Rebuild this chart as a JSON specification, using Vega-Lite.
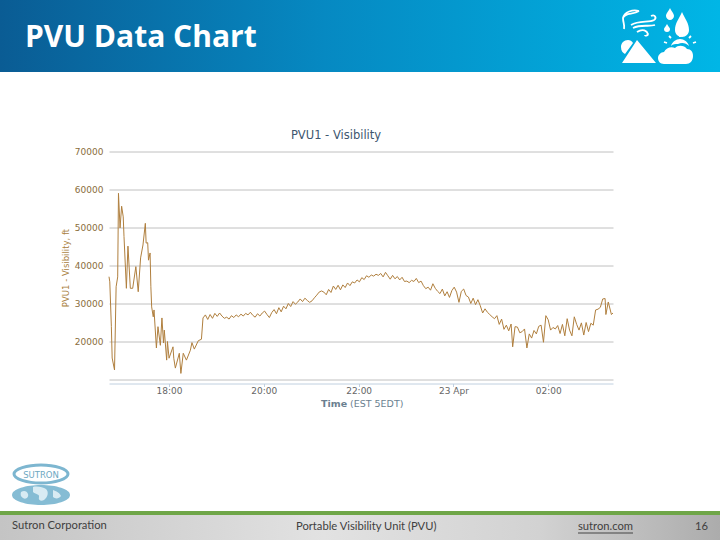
{
  "$schema": "https://vega.github.io/schema/vega-lite/v6.json",
  "width": 504,
  "height": 232,
  "autosize": "none",
  "padding": {"left": 109, "top": 151.5, "right": 107, "bottom": 156.5},
  "background": "#ffffff",
  "config": {"view": {"stroke": null}},
  "resolve": {"scale": {"x": "independent", "y": "independent"}, "axis": {"x": "independent", "y": "independent"}},
  "layer": [
    {
      "encoding": {
        "x": {"field": "x", "type": "quantitative", "axis": null, "scale": {"domain": [0, 720], "range": [-109, 611]}},
        "y": {"field": "y", "type": "quantitative", "axis": null, "scale": {"domain": [0, 540], "range": [-151.5, 388.5]}}
      },
      "layer": [
        {
          "data": {"values": [{"x": 0, "x2": 720, "y": 0, "y2": 72}]},
          "mark": {"type": "rect", "fill": {"x1": 0, "y1": 0, "x2": 1, "y2": 0, "gradient": "linear", "stops": [{"offset": 0, "color": "#0a5c94"}, {"offset": 0.45, "color": "#0689c2"}, {"offset": 1, "color": "#00b6e6"}]}},
          "encoding": {"x2": {"field": "x2"}, "y2": {"field": "y2"}}
        },
        {
          "data": {"values": [{"x": 0, "x2": 720, "y": 514, "y2": 540}]},
          "mark": {"type": "rect", "fill": {"x1": 0, "y1": 0, "x2": 1, "y2": 0, "gradient": "linear", "stops": [{"offset": 0, "color": "#c4c4c4"}, {"offset": 0.45, "color": "#e2e2e2"}, {"offset": 0.75, "color": "#d2d2d2"}, {"offset": 1, "color": "#acacac"}]}},
          "encoding": {"x2": {"field": "x2"}, "y2": {"field": "y2"}}
        },
        {
          "data": {"values": [{"x": 0, "x2": 720, "y": 511, "y2": 515}]},
          "mark": {"type": "rect", "fill": "#6fa648"},
          "encoding": {"x2": {"field": "x2"}, "y2": {"field": "y2"}}
        },
        {
          "data": {"values": [{"x": 578, "x2": 633, "y": 532.5, "y2": 533.5}]},
          "mark": {"type": "rect", "fill": "#444444"},
          "encoding": {"x2": {"field": "x2"}, "y2": {"field": "y2"}}
        },
        {
          "data": {"values": [{"x": 657, "y": 37}]},
          "mark": {"type": "point", "filled": true, "opacity": 1, "fill": "#ffffff", "stroke": null, "size": 4, "shape": "M-20,3 L-1,26 L-35,26 Z M-29,3 C-33,3 -36,6 -36,10 C-36,14 -34,16 -32,17 L-24,6 C-25,4 -27,3 -29,3 Z M25,-25 C28,-18 32,-14 32,-7 C32,-3 29,0 25,0 C21,0 18,-3 18,-7 C18,-14 22,-18 25,-25 Z M13,-29 C14,-26 17,-24 17,-21 C17,-19 15,-17 13,-17 C11,-17 9,-19 9,-21 C9,-24 12,-26 13,-29 Z M10,-13 C11,-11 13,-9 13,-8 C13,-6 12,-5 10,-5 C8,-5 7,-6 7,-8 C7,-9 9,-11 10,-13 Z M7,27 C3,27 1,24 1,21 C1,18 4,15 7,15 C9,11 14,9 18,11 C21,8 27,8 30,12 C34,12 36,15 36,19 C36,24 33,27 29,27 Z M14,9 C15,5 19,2 23,2 C27,2 31,5 32,9 C29,6 25,5 21,7 C18,7 16,7 14,9 Z"}
        },
        {
          "data": {"values": [{"x": 657, "y": 37}]},
          "mark": {"type": "point", "filled": false, "opacity": 1, "stroke": "#ffffff", "strokeWidth": 1.8, "size": 4, "shape": "M-18,-26 C-24,-28 -33,-25 -34,-19 C-34,-14 -32,-12 -33,-8 M-34,-19 C-32,-25 -24,-22 -18,-26 M-26,-12 C-18,-17 -8,-14 -3,-17 C0,-19 -2,-23 -6,-21 M-24,-9 C-16,-13 -8,-10 -2,-12 M-20,-5 C-14,-9 -10,-6 -9,-3 C-9,-1 -12,-1 -12,-2 M23,-1 L23,0 M14,1 L12,-1 M32,1 L34,-1 M10,6 L7,5 M36,6 L39,5"}
        },
        {
          "data": {"values": [{"x": 41, "y": 485}]},
          "mark": {"type": "point", "filled": false, "opacity": 1, "stroke": "#7db6d0", "strokeWidth": 3, "size": 4, "shape": "M-27,-11 C-27,-16 -14,-20 0,-20 C14,-20 27,-16 27,-11 C27,-6 14,-2 0,-2 C-14,-2 -27,-6 -27,-11 Z"}
        },
        {
          "data": {"values": [{"x": 41, "y": 485}]},
          "mark": {"type": "point", "filled": true, "opacity": 1, "fill": "#85bcd4", "stroke": null, "size": 4, "shape": "M-29,10 C-29,4 -15,0 0,0 C15,0 29,4 29,10 C29,16 15,20 0,20 C-15,20 -29,16 -29,10 Z"}
        },
        {
          "data": {"values": [{"x": 41, "y": 495}]},
          "mark": {"type": "point", "filled": true, "opacity": 1, "fill": "#d8ebf3", "stroke": null, "size": 4, "shape": "M-8,-8 C-4,-9 2,-8 5,-6 C8,-3 7,2 3,5 C0,7 -3,5 -2,2 C-1,-1 -6,-1 -8,-3 Z M-20,-3 C-17,-5 -14,-4 -13,-1 C-12,2 -15,5 -18,3 C-20,2 -21,0 -20,-3 Z M12,-5 C15,-4 19,-2 20,1 C18,4 14,4 12,2 Z"}
        },
        {
          "data": {"values": [{"x": 41, "y": 474.5, "label": "SUTRON"}]},
          "mark": {"type": "text", "font": "DejaVu Sans", "fontSize": 8.5, "color": "#6ea8c2", "align": "center", "baseline": "middle"},
          "encoding": {"text": {"field": "label"}}
        },
        {
          "data": {"values": [{"x": 25, "y": 38, "label": "PVU Data Chart"}]},
          "mark": {"type": "text", "font": "Open Sans", "fontSize": 30, "fontWeight": "bold", "color": "#ffffff", "align": "left", "baseline": "middle"},
          "encoding": {"text": {"field": "label"}}
        },
        {
          "data": {"values": [{"x": 336, "y": 136, "label": "PVU1 - Visibility"}]},
          "mark": {"type": "text", "font": "DejaVu Sans", "fontSize": 11.5, "color": "#3e576f", "align": "center", "baseline": "middle"},
          "encoding": {"text": {"field": "label"}}
        },
        {
          "data": {"values": [
            {"x": 12, "y": 526, "label": "Sutron Corporation"},
            {"x": 296, "y": 527, "label": "Portable Visibility Unit (PVU)"},
            {"x": 578, "y": 527, "label": "sutron.com"},
            {"x": 695, "y": 527, "label": "16"}
          ]},
          "mark": {"type": "text", "font": "Lato", "fontSize": 11.2, "color": "#404040", "align": "left", "baseline": "middle"},
          "encoding": {"text": {"field": "label"}}
        },
        {
          "data": {"values": [{"x": 321, "y": 404, "label": "Time"}]},
          "mark": {"type": "text", "font": "DejaVu Sans", "fontSize": 9.5, "fontWeight": "bold", "color": "#6b7f90", "align": "left", "baseline": "middle"},
          "encoding": {"text": {"field": "label"}}
        },
        {
          "data": {"values": [{"x": 350, "y": 404, "label": "(EST 5EDT)"}]},
          "mark": {"type": "text", "font": "DejaVu Sans", "fontSize": 9.5, "color": "#6b7f90", "align": "left", "baseline": "middle"},
          "encoding": {"text": {"field": "label"}}
        }
      ]
    },
    {
      "data": {"values": [
        {"t": "2014-04-22T16:44Z", "v": 37050}, {"t": "2014-04-22T16:45Z", "v": 35700}, {"t": "2014-04-22T16:47Z", "v": 23900}, {"t": "2014-04-22T16:48Z", "v": 15650},
        {"t": "2014-04-22T16:51Z", "v": 12500}, {"t": "2014-04-22T16:53Z", "v": 34400}, {"t": "2014-04-22T16:55Z", "v": 37000}, {"t": "2014-04-22T16:56Z", "v": 59000},
        {"t": "2014-04-22T16:58Z", "v": 49900}, {"t": "2014-04-22T17:00Z", "v": 55600}, {"t": "2014-04-22T17:02Z", "v": 52800}, {"t": "2014-04-22T17:03Z", "v": 47600},
        {"t": "2014-04-22T17:06Z", "v": 34000}, {"t": "2014-04-22T17:08Z", "v": 45100}, {"t": "2014-04-22T17:11Z", "v": 34000}, {"t": "2014-04-22T17:14Z", "v": 34000},
        {"t": "2014-04-22T17:18Z", "v": 39700}, {"t": "2014-04-22T17:21Z", "v": 33100}, {"t": "2014-04-22T17:24Z", "v": 42000}, {"t": "2014-04-22T17:27Z", "v": 45400},
        {"t": "2014-04-22T17:30Z", "v": 51100}, {"t": "2014-04-22T17:31Z", "v": 45900}, {"t": "2014-04-22T17:33Z", "v": 46000}, {"t": "2014-04-22T17:34Z", "v": 41400},
        {"t": "2014-04-22T17:36Z", "v": 43300}, {"t": "2014-04-22T17:37Z", "v": 34400}, {"t": "2014-04-22T17:38Z", "v": 29100}, {"t": "2014-04-22T17:40Z", "v": 26500},
        {"t": "2014-04-22T17:41Z", "v": 28300}, {"t": "2014-04-22T17:44Z", "v": 18300}, {"t": "2014-04-22T17:46Z", "v": 23900}, {"t": "2014-04-22T17:49Z", "v": 19000},
        {"t": "2014-04-22T17:51Z", "v": 26200}, {"t": "2014-04-22T17:53Z", "v": 19600}, {"t": "2014-04-22T17:54Z", "v": 23000}, {"t": "2014-04-22T17:57Z", "v": 15100},
        {"t": "2014-04-22T17:58Z", "v": 20000}, {"t": "2014-04-22T18:00Z", "v": 15600}, {"t": "2014-04-22T18:05Z", "v": 18600}, {"t": "2014-04-22T18:06Z", "v": 15600},
        {"t": "2014-04-22T18:08Z", "v": 13000}, {"t": "2014-04-22T18:13Z", "v": 16900}, {"t": "2014-04-22T18:15Z", "v": 11600}, {"t": "2014-04-22T18:18Z", "v": 16900},
        {"t": "2014-04-22T18:22Z", "v": 15100}, {"t": "2014-04-22T18:27Z", "v": 17700}, {"t": "2014-04-22T18:29Z", "v": 19700}, {"t": "2014-04-22T18:32Z", "v": 18000},
        {"t": "2014-04-22T18:37Z", "v": 20200}, {"t": "2014-04-22T18:41Z", "v": 20600}, {"t": "2014-04-22T18:43Z", "v": 26200}, {"t": "2014-04-22T18:46Z", "v": 27000},
        {"t": "2014-04-22T18:49Z", "v": 25800}, {"t": "2014-04-22T18:52Z", "v": 27100}, {"t": "2014-04-22T18:55Z", "v": 26100}, {"t": "2014-04-22T18:58Z", "v": 27400},
        {"t": "2014-04-22T19:01Z", "v": 26600}, {"t": "2014-04-22T19:04Z", "v": 27500}, {"t": "2014-04-22T19:07Z", "v": 26700}, {"t": "2014-04-22T19:10Z", "v": 26100},
        {"t": "2014-04-22T19:13Z", "v": 26400}, {"t": "2014-04-22T19:16Z", "v": 25900}, {"t": "2014-04-22T19:19Z", "v": 26800}, {"t": "2014-04-22T19:22Z", "v": 26300},
        {"t": "2014-04-22T19:25Z", "v": 27000}, {"t": "2014-04-22T19:28Z", "v": 26500}, {"t": "2014-04-22T19:31Z", "v": 27200}, {"t": "2014-04-22T19:34Z", "v": 26700},
        {"t": "2014-04-22T19:37Z", "v": 27400}, {"t": "2014-04-22T19:40Z", "v": 27000}, {"t": "2014-04-22T19:43Z", "v": 27700}, {"t": "2014-04-22T19:46Z", "v": 26900},
        {"t": "2014-04-22T19:49Z", "v": 26400}, {"t": "2014-04-22T19:52Z", "v": 27300}, {"t": "2014-04-22T19:55Z", "v": 26700}, {"t": "2014-04-22T19:58Z", "v": 27500},
        {"t": "2014-04-22T20:01Z", "v": 28000}, {"t": "2014-04-22T20:04Z", "v": 27100}, {"t": "2014-04-22T20:07Z", "v": 26300}, {"t": "2014-04-22T20:10Z", "v": 27600},
        {"t": "2014-04-22T20:13Z", "v": 28400}, {"t": "2014-04-22T20:16Z", "v": 27300}, {"t": "2014-04-22T20:19Z", "v": 28900}, {"t": "2014-04-22T20:22Z", "v": 27800},
        {"t": "2014-04-22T20:25Z", "v": 29300}, {"t": "2014-04-22T20:28Z", "v": 28600}, {"t": "2014-04-22T20:31Z", "v": 30000}, {"t": "2014-04-22T20:34Z", "v": 29200},
        {"t": "2014-04-22T20:37Z", "v": 30500}, {"t": "2014-04-22T20:40Z", "v": 29800}, {"t": "2014-04-22T20:43Z", "v": 30400}, {"t": "2014-04-22T20:46Z", "v": 31200},
        {"t": "2014-04-22T20:49Z", "v": 30500}, {"t": "2014-04-22T20:52Z", "v": 31400}, {"t": "2014-04-22T20:55Z", "v": 30800}, {"t": "2014-04-22T20:58Z", "v": 30300},
        {"t": "2014-04-22T21:01Z", "v": 30700}, {"t": "2014-04-22T21:04Z", "v": 31500}, {"t": "2014-04-22T21:07Z", "v": 32200}, {"t": "2014-04-22T21:10Z", "v": 33000},
        {"t": "2014-04-22T21:13Z", "v": 33300}, {"t": "2014-04-22T21:16Z", "v": 33000}, {"t": "2014-04-22T21:19Z", "v": 32300}, {"t": "2014-04-22T21:22Z", "v": 33700},
        {"t": "2014-04-22T21:25Z", "v": 32900}, {"t": "2014-04-22T21:28Z", "v": 34600}, {"t": "2014-04-22T21:31Z", "v": 33700}, {"t": "2014-04-22T21:34Z", "v": 34800},
        {"t": "2014-04-22T21:37Z", "v": 33600}, {"t": "2014-04-22T21:40Z", "v": 34900}, {"t": "2014-04-22T21:43Z", "v": 34200}, {"t": "2014-04-22T21:46Z", "v": 35400},
        {"t": "2014-04-22T21:49Z", "v": 34700}, {"t": "2014-04-22T21:52Z", "v": 35700}, {"t": "2014-04-22T21:55Z", "v": 35400}, {"t": "2014-04-22T21:58Z", "v": 36200},
        {"t": "2014-04-22T22:01Z", "v": 35700}, {"t": "2014-04-22T22:04Z", "v": 36800}, {"t": "2014-04-22T22:07Z", "v": 36300}, {"t": "2014-04-22T22:10Z", "v": 37300},
        {"t": "2014-04-22T22:13Z", "v": 36900}, {"t": "2014-04-22T22:16Z", "v": 37500}, {"t": "2014-04-22T22:19Z", "v": 37200}, {"t": "2014-04-22T22:22Z", "v": 37700},
        {"t": "2014-04-22T22:25Z", "v": 37400}, {"t": "2014-04-22T22:28Z", "v": 37900}, {"t": "2014-04-22T22:31Z", "v": 37000}, {"t": "2014-04-22T22:34Z", "v": 38200},
        {"t": "2014-04-22T22:37Z", "v": 37300}, {"t": "2014-04-22T22:40Z", "v": 36400}, {"t": "2014-04-22T22:43Z", "v": 37400}, {"t": "2014-04-22T22:46Z", "v": 36500},
        {"t": "2014-04-22T22:49Z", "v": 37100}, {"t": "2014-04-22T22:52Z", "v": 36200}, {"t": "2014-04-22T22:55Z", "v": 36900}, {"t": "2014-04-22T22:58Z", "v": 35800},
        {"t": "2014-04-22T23:01Z", "v": 35900}, {"t": "2014-04-22T23:04Z", "v": 35500}, {"t": "2014-04-22T23:07Z", "v": 36100}, {"t": "2014-04-22T23:10Z", "v": 35800},
        {"t": "2014-04-22T23:13Z", "v": 36600}, {"t": "2014-04-22T23:16Z", "v": 35500}, {"t": "2014-04-22T23:19Z", "v": 35900}, {"t": "2014-04-22T23:22Z", "v": 34700},
        {"t": "2014-04-22T23:25Z", "v": 33900}, {"t": "2014-04-22T23:28Z", "v": 34300}, {"t": "2014-04-22T23:31Z", "v": 33500}, {"t": "2014-04-22T23:34Z", "v": 35200},
        {"t": "2014-04-22T23:37Z", "v": 34000}, {"t": "2014-04-22T23:40Z", "v": 33200}, {"t": "2014-04-22T23:43Z", "v": 32600}, {"t": "2014-04-22T23:46Z", "v": 33800},
        {"t": "2014-04-22T23:49Z", "v": 32000}, {"t": "2014-04-22T23:52Z", "v": 33100}, {"t": "2014-04-22T23:55Z", "v": 31600}, {"t": "2014-04-22T23:58Z", "v": 33400},
        {"t": "2014-04-23T00:01Z", "v": 34300}, {"t": "2014-04-23T00:04Z", "v": 33000}, {"t": "2014-04-23T00:07Z", "v": 30300}, {"t": "2014-04-23T00:10Z", "v": 33200},
        {"t": "2014-04-23T00:13Z", "v": 33800}, {"t": "2014-04-23T00:16Z", "v": 32100}, {"t": "2014-04-23T00:19Z", "v": 31700}, {"t": "2014-04-23T00:22Z", "v": 30000},
        {"t": "2014-04-23T00:25Z", "v": 31400}, {"t": "2014-04-23T00:28Z", "v": 29700}, {"t": "2014-04-23T00:31Z", "v": 31000}, {"t": "2014-04-23T00:34Z", "v": 29400},
        {"t": "2014-04-23T00:37Z", "v": 27500}, {"t": "2014-04-23T00:40Z", "v": 28600}, {"t": "2014-04-23T00:43Z", "v": 27700}, {"t": "2014-04-23T00:46Z", "v": 27100},
        {"t": "2014-04-23T00:49Z", "v": 26500}, {"t": "2014-04-23T00:52Z", "v": 26000}, {"t": "2014-04-23T00:55Z", "v": 26800}, {"t": "2014-04-23T00:58Z", "v": 24500},
        {"t": "2014-04-23T01:01Z", "v": 25900}, {"t": "2014-04-23T01:04Z", "v": 23200}, {"t": "2014-04-23T01:07Z", "v": 24300}, {"t": "2014-04-23T01:10Z", "v": 22800},
        {"t": "2014-04-23T01:13Z", "v": 24600}, {"t": "2014-04-23T01:15Z", "v": 18600}, {"t": "2014-04-23T01:18Z", "v": 23900}, {"t": "2014-04-23T01:21Z", "v": 23800},
        {"t": "2014-04-23T01:24Z", "v": 22300}, {"t": "2014-04-23T01:27Z", "v": 22600}, {"t": "2014-04-23T01:30Z", "v": 23300}, {"t": "2014-04-23T01:33Z", "v": 18300},
        {"t": "2014-04-23T01:36Z", "v": 22000}, {"t": "2014-04-23T01:39Z", "v": 20900}, {"t": "2014-04-23T01:42Z", "v": 22900}, {"t": "2014-04-23T01:45Z", "v": 22000},
        {"t": "2014-04-23T01:48Z", "v": 24000}, {"t": "2014-04-23T01:51Z", "v": 24300}, {"t": "2014-04-23T01:54Z", "v": 19800}, {"t": "2014-04-23T01:57Z", "v": 26800},
        {"t": "2014-04-23T02:00Z", "v": 25700}, {"t": "2014-04-23T02:03Z", "v": 23000}, {"t": "2014-04-23T02:06Z", "v": 23700}, {"t": "2014-04-23T02:09Z", "v": 23300},
        {"t": "2014-04-23T02:12Z", "v": 24200}, {"t": "2014-04-23T02:15Z", "v": 22100}, {"t": "2014-04-23T02:18Z", "v": 24500}, {"t": "2014-04-23T02:21Z", "v": 21500},
        {"t": "2014-04-23T02:24Z", "v": 26000}, {"t": "2014-04-23T02:27Z", "v": 23000}, {"t": "2014-04-23T02:30Z", "v": 21500}, {"t": "2014-04-23T02:33Z", "v": 26500},
        {"t": "2014-04-23T02:36Z", "v": 24500}, {"t": "2014-04-23T02:39Z", "v": 23000}, {"t": "2014-04-23T02:42Z", "v": 24900}, {"t": "2014-04-23T02:45Z", "v": 21700},
        {"t": "2014-04-23T02:48Z", "v": 25000}, {"t": "2014-04-23T02:51Z", "v": 22600}, {"t": "2014-04-23T02:54Z", "v": 24800}, {"t": "2014-04-23T02:57Z", "v": 24300},
        {"t": "2014-04-23T03:00Z", "v": 28300}, {"t": "2014-04-23T03:03Z", "v": 28500}, {"t": "2014-04-23T03:06Z", "v": 29000}, {"t": "2014-04-23T03:09Z", "v": 31200},
        {"t": "2014-04-23T03:12Z", "v": 31300}, {"t": "2014-04-23T03:13Z", "v": 27100}, {"t": "2014-04-23T03:16Z", "v": 30400}, {"t": "2014-04-23T03:20Z", "v": 27100},
        {"t": "2014-04-23T03:22Z", "v": 27500}
      ]},
      "mark": {"type": "line", "color": "#b07f3e", "strokeWidth": 1, "clip": false},
      "encoding": {
        "x": {
          "field": "t",
          "type": "temporal",
          "scale": {"type": "utc", "domain": ["2014-04-22T16:44Z", "2014-04-23T03:22Z"]},
          "axis": {
            "title": null,
            "values": ["2014-04-22T18:00Z", "2014-04-22T20:00Z", "2014-04-22T22:00Z", "2014-04-23T00:00Z", "2014-04-23T02:00Z"],
            "labelExpr": "utchours(datum.value) == 0 ? '23 Apr' : utcFormat(datum.value, '%H:%M')",
            "labelFont": "DejaVu Sans",
            "labelFontSize": 9,
            "labelColor": "#666666",
            "labelPadding": 0,
            "domainColor": "#c0d0e0",
            "domainWidth": 1,
            "tickColor": "#c0d0e0",
            "tickSize": 3,
            "grid": false
          }
        },
        "y": {
          "field": "v",
          "type": "quantitative",
          "scale": {"domain": [8947, 70000], "nice": false, "zero": false},
          "axis": {
            "title": "PVU1 - Visibility, ft",
            "titleFont": "DejaVu Sans",
            "titleFontSize": 8.5,
            "titleFontWeight": "normal",
            "titleColor": "#a98040",
            "titlePadding": 4,
            "values": [10000, 20000, 30000, 40000, 50000, 60000, 70000],
            "labelExpr": "datum.value == 10000 ? '' : datum.value",
            "labelFont": "DejaVu Sans",
            "labelFontSize": 9,
            "labelColor": "#8a6d3b",
            "labelPadding": 6,
            "domain": false,
            "ticks": false,
            "grid": true,
            "gridColor": "#c0c0c0",
            "gridWidth": 1
          }
        }
      }
    }
  ]
}
